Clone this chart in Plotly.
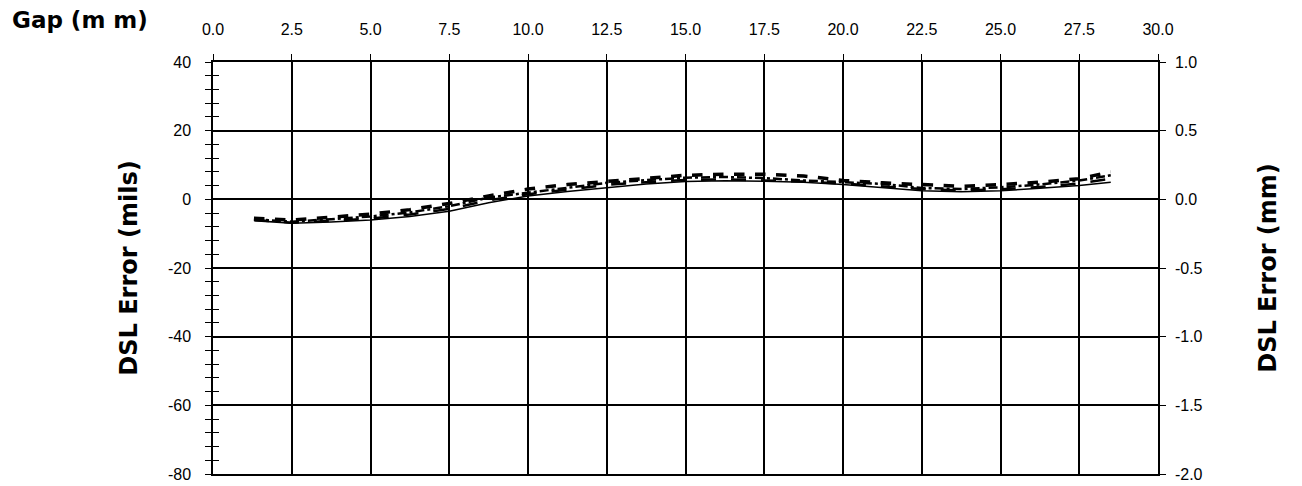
import plotly.graph_objects as go

gap_mm = [1.3, 2.5, 3.75, 5.0, 6.25, 7.5, 8.75, 10.0, 11.25, 12.5, 13.75, 15.0,
          16.25, 17.5, 18.75, 20.0, 21.25, 22.5, 23.75, 25.0, 26.25, 27.5, 28.5]
err_a = [-5.5, -6.0, -5.2, -4.3, -3.0, -1.2, 1.0, 3.0, 4.3, 5.2, 6.2, 7.0,
         7.3, 7.3, 6.8, 5.5, 4.8, 4.2, 3.8, 4.3, 5.0, 6.0, 8.0]
err_b = [-5.8, -6.5, -5.8, -5.0, -3.8, -2.0, 0.5, 2.0, 3.5, 4.8, 5.6, 6.3,
         6.5, 6.2, 5.5, 5.0, 4.5, 3.3, 3.0, 3.5, 4.3, 5.5, 7.0]
err_c = [-6.0, -6.8, -6.3, -5.6, -4.4, -2.8, -0.3, 1.5, 2.8, 4.2, 5.0, 5.6,
         5.8, 5.6, 5.2, 4.6, 3.9, 3.0, 2.6, 2.9, 3.6, 4.6, 6.0]
err_d = [-6.2, -7.0, -6.6, -6.0, -5.0, -3.5, -1.0, 1.0, 2.3, 3.5, 4.5, 5.2,
         5.4, 5.3, 5.0, 4.3, 3.5, 2.5, 2.2, 2.5, 3.2, 4.0, 5.0]

gap_ticks = [0, 2.5, 5, 7.5, 10, 12.5, 15, 17.5, 20, 22.5, 25, 27.5, 30]
gap_labels = ["0.0", "2.5", "5.0", "7.5", "10.0", "12.5", "15.0", "17.5", "20.0",
              "22.5", "25.0", "27.5", "30.0"]
mils_ticks = [-80, -60, -40, -20, 0, 20, 40]
mils_labels = ["-80", "-60", "-40", "-20", "0", "20", "40"]
mm_ticks = [-2.0, -1.5, -1.0, -0.5, 0.0, 0.5, 1.0]
mm_labels = ["-2.0", "-1.5", "-1.0", "-0.5", "0.0", "0.5", "1.0"]

FONT = "Liberation Sans, Arial, sans-serif"
TFONT = "DejaVu Sans, Liberation Sans, sans-serif"

fig = go.Figure()
styles = [(err_a, "dash", 3.5), (err_b, "dashdot", 2.5), (err_c, "longdash", 2.5), (err_d, "solid", 1.5)]
for ys, dash, w in styles:
    fig.add_trace(go.Scatter(x=gap_mm, y=ys, mode="lines",
                             line=dict(color="black", width=w, dash=dash),
                             showlegend=False, hoverinfo="skip"))

fig.add_trace(go.Scatter(x=[None], y=[None], yaxis="y2", showlegend=False))
fig.add_trace(go.Scatter(x=[None], y=[None], yaxis="y3", showlegend=False))
fig.add_trace(go.Scatter(x=[None], y=[None], xaxis="x2", showlegend=False))

axis_common = dict(linecolor="black", linewidth=1.5, showline=True, mirror=False,
                   tickfont=dict(family=FONT, size=16, color="black"),
                   tickcolor="black", zeroline=False, automargin=False)

# page body has an 8px margin; the figure is sized to fit inside the window
fig.update_layout(
    width=1286, height=478,
    margin=dict(l=205, r=136, t=54, b=12),
    paper_bgcolor="white", plot_bgcolor="white",
    font=dict(family=FONT, color="black"),
    xaxis=dict(side="top", range=[0, 30], tickmode="array", tickvals=gap_ticks, ticktext=gap_labels,
               ticks="outside", ticklen=6, ticklabelstandoff=13,
               showgrid=True, gridcolor="black", gridwidth=1.5,
               **axis_common),
    xaxis2=dict(overlaying="x", side="bottom", range=[0, 30], showline=True,
                linecolor="black", linewidth=1.5, showticklabels=False,
                ticks="", showgrid=False, zeroline=False, anchor="y", automargin=False),
    yaxis=dict(range=[-80, 40], tickmode="array", tickvals=mils_ticks, ticktext=mils_labels,
               ticks="outside", ticklen=6, ticklabelstandoff=11,
               minor=dict(dtick=4, tick0=-80, ticks="outside", ticklen=6, tickcolor="black", showgrid=False),
               showgrid=True, gridcolor="black", gridwidth=1.5,
               title=dict(text="<b>DSL Error (mils)</b>", font=dict(family=TFONT, size=24, color="black"), standoff=24),
               **axis_common),
    yaxis2=dict(range=[-2, 1], overlaying="y", side="right", tickmode="array", tickvals=mm_ticks, ticktext=mm_labels,
                ticks="outside", ticklen=6, ticklabelstandoff=6, showgrid=False,
                title=dict(text="<b>DSL Error (mm)</b>", font=dict(family=TFONT, size=24, color="black"), standoff=58),
                **axis_common),
    yaxis3=dict(range=[-80, 40], overlaying="y", side="left", tickmode="linear", tick0=-80, dtick=4,
                ticks="inside", ticklen=6, tickcolor="black", showticklabels=False,
                showgrid=False, showline=False, zeroline=False, automargin=False),
    annotations=[dict(text="<b>Gap (m m)</b>", xref="paper", yref="paper", x=(2 - 205) / 945, y=1,
                      xanchor="left", yanchor="middle", yshift=42, showarrow=False,
                      font=dict(family=TFONT, size=23, color="black"))],
)

fig.write_html("out.html")
